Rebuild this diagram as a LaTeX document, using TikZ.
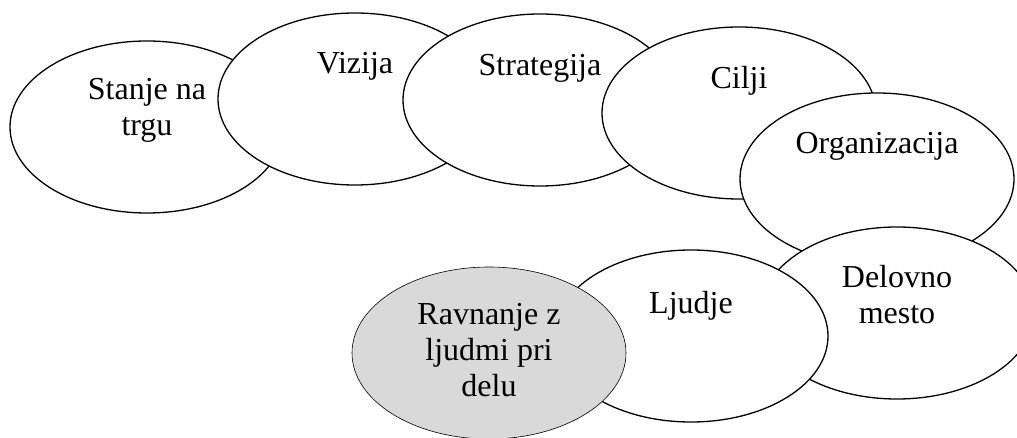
\documentclass[tikz,border=0pt]{standalone}
\usepackage{fontspec}
\setmainfont{Liberation Serif}
\usetikzlibrary{shapes.geometric}
\definecolor{mLightGray}{HTML}{D9D9D9}

\begin{document}
\begin{tikzpicture}[
  x=1pt, y=-1pt,
  every node/.style={font=\fontsize{32}{36}\selectfont, align=center},
  oval/.style={
    ellipse,
    draw=black,
    fill=white,
    line width=1.3pt,
    inner sep=0pt,
    minimum width=274pt,
    minimum height=172pt
  },
  core/.style={
    oval,
    fill=mLightGray,
    line width=0.6pt
  },
  txt/.style={anchor=north, inner sep=0pt, execute at begin node=\strut}
]

\useasboundingbox (0,0) rectangle (1017,438);

\node[oval] (trg)          at (147,127) {};
\node[oval] (vizija)       at (355,99)  {};
\node[oval] (strategija)   at (540,100) {};
\node[oval] (cilji)        at (739,113) {};
\node[oval] (organizacija) at (877,179) {};
\node[oval] (mesto)        at (897,313) {};
\node[oval] (ljudje)       at (691,336) {};
\node[core] (ravnanje)     at (489,353) {};

\node[txt] (trgtxt)          at ([yshift=49pt]trg.center) {Stanje na\\trgu};
\node[txt] (vizijatxt)       at ([yshift=51pt]vizija.center) {Vizija};
\node[txt] (strategijatxt)   at ([yshift=50pt]strategija.center) {Strategija};
\node[txt] (ciljitxt)        at ([yshift=50pt]cilji.center) {Cilji};
\node[txt] (organizacijatxt) at ([yshift=51pt]organizacija.center) {Organizacija};
\node[txt] (mestotxt)        at ([yshift=48pt]mesto.center) {Delovno\\mesto};
\node[txt] (ljudjetxt)       at ([yshift=48pt]ljudje.center) {Ljudje};
\node[txt] (ravnanjetxt)     at ([yshift=50pt]ravnanje.center) {Ravnanje z\\ljudmi pri\\delu};

\end{tikzpicture}
\end{document}
